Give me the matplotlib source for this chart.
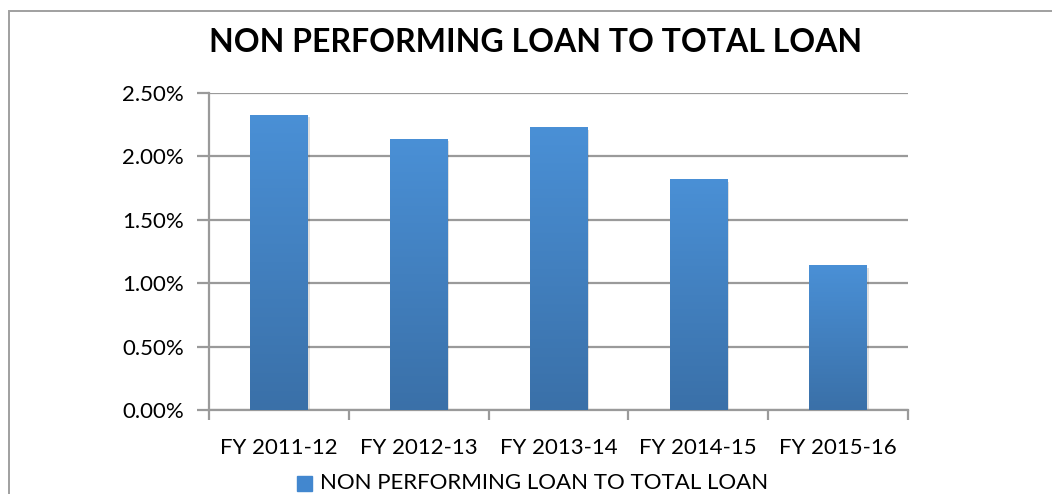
import matplotlib.pyplot as plt
import numpy as np
from matplotlib.patches import Rectangle
from matplotlib.ticker import FuncFormatter
from matplotlib.colors import LinearSegmentedColormap

plt.rcParams['font.family'] = ['Lato', 'DejaVu Sans']

years = ['FY 2011-12', 'FY 2012-13', 'FY 2013-14', 'FY 2014-15', 'FY 2015-16']
npl_ratio = [2.33, 2.14, 2.23, 1.82, 1.14]
series_name = 'NON PERFORMING LOAN TO TOTAL LOAN'

fig = plt.figure(figsize=(10.52, 4.94), dpi=100)
ax = fig.add_axes([209 / 1052, 1 - 410 / 494, 699 / 1052, 317 / 494])

x = np.arange(len(years))
bars = ax.bar(x, npl_ratio, width=0.41, color='#4a8fd3', zorder=3)

# vertical gradient inside each bar, light at top, darker at bottom
grad = np.linspace(0, 1, 256).reshape(-1, 1)
cmap = LinearSegmentedColormap.from_list('g', ['#3a70a8', '#4a90d6'])
for b in bars:
    bx, by = b.get_x(), b.get_y()
    w, h = b.get_width(), b.get_height()
    # soft shadow
    ax.add_patch(Rectangle((bx + 0.015, by), w, h - 0.02, color='#000000', alpha=0.12,
                           zorder=2, lw=0))
    im = ax.imshow(grad, extent=[bx, bx + w, by, by + h], origin='lower', cmap=cmap,
                   aspect='auto', zorder=3.5)
    im.set_clip_path(b)

ax.set_xlim(-0.5, len(years) - 0.5)
ax.set_ylim(0, 2.5)
ax.set_yticks([0, 0.5, 1.0, 1.5, 2.0, 2.5])
ax.yaxis.set_major_formatter(FuncFormatter(lambda v, p: '%.2f%%' % v))
ax.set_xticks(x)
ax.set_xticklabels(years)
ax.set_xticks(np.arange(len(years) + 1) - 0.5, minor=True)

ax.grid(axis='y', color='#9a9a9a', lw=1.6, zorder=1)
for s in ['top', 'right']:
    ax.spines[s].set_visible(False)
for s in ['left', 'bottom']:
    ax.spines[s].set_color('#9a9a9a')
    ax.spines[s].set_linewidth(1.6)
ax.tick_params(axis='y', length=9, width=1.6, color='#9a9a9a', labelsize=16, pad=9)
ax.tick_params(axis='x', which='major', length=0, labelsize=16, pad=20)
ax.tick_params(axis='x', which='minor', length=7, width=1.6, color='#9a9a9a')

fig.text(536 / 1052, 1 - 42 / 494, 'NON PERFORMING LOAN TO TOTAL LOAN',
         ha='center', va='center', fontsize=23, fontweight='bold')

# legend at the bottom edge
fig.patches.append(Rectangle((297 / 1052, 1 - 491 / 494), 15 / 1052, 15 / 494,
                             transform=fig.transFigure, color='#4287cf', figure=fig))
fig.text(320 / 1052, 1 - 483 / 494, series_name, ha='left', va='center', fontsize=16)

# chart border
fig.patches.append(Rectangle((9 / 1052, -0.1), 1.2, 1.1 - 11 / 494, transform=fig.transFigure,
                             fill=False, edgecolor='#a0a0a0', lw=1.4, figure=fig))

fig.savefig('out.png', dpi=100)
